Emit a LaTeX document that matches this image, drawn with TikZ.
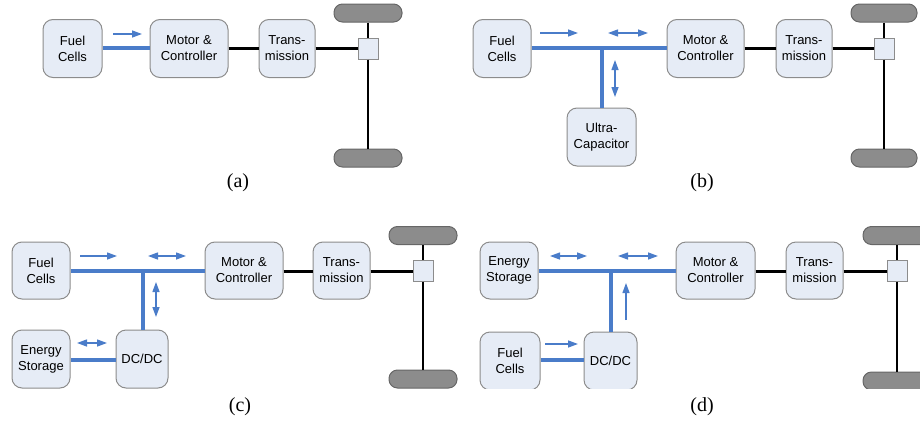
\documentclass[tikz,border=0pt]{standalone}
\usepackage{fontspec}
\setmainfont{Liberation Serif}
\setsansfont{Liberation Sans}
\usetikzlibrary{arrows.meta}
\definecolor{boxfill}{HTML}{E6ECF6}
\definecolor{boxline}{HTML}{8C8C8C}
\definecolor{flow}{HTML}{4A7CC9}
\definecolor{wheelfill}{HTML}{8C8C8C}
\begin{document}
\begin{tikzpicture}[x=1pt,y=-1pt,
 blk/.style={draw=boxline, fill=boxfill, rounded corners=10pt, line width=1pt, align=center, inner sep=0pt, font=\sffamily\fontsize{13}{16}\selectfont, minimum height=58pt},
 hub/.style={draw=boxline, fill=boxfill, line width=1pt, minimum width=20pt, minimum height=21pt, inner sep=0pt},
 wheel/.style={draw=black!60, fill=wheelfill, rounded corners=8.5pt, minimum width=68pt, minimum height=18pt, inner sep=0pt, line width=1pt},
 bus/.style={draw=flow, line width=4pt},
 shaft/.style={draw=black, line width=3pt},
 axle/.style={draw=black, line width=2.5pt},
 flowarr/.style={draw=flow, line width=1.3pt, -{Triangle[length=10pt,width=7pt]}},
 flowdbl/.style={draw=flow, line width=1.3pt, {Triangle[length=10pt,width=7pt]}-{Triangle[length=10pt,width=7pt]}},
 captxt/.style={font=\fontsize{20}{22}\selectfont, inner sep=0pt}]
\useasboundingbox (0,0) rectangle (920,423);

% ---------------- (a) ----------------
\node[blk, minimum width=59pt] (fca) at (72.5,48.5) {Fuel\\Cells};
\node[blk, minimum width=78pt] (mca) at (189,48.5) {Motor \&\\Controller};
\node[blk, minimum width=56pt] (tra) at (287,48.5) {Trans-\\mission};
\node[hub] (sqa) at (368,48.5) {};
\node[wheel] (wta) at (368,13) {};
\node[wheel] (wba) at (368,158) {};
\draw[bus] (fca.east |- 0,48) -- (mca.west |- 0,48);
\draw[shaft] (mca.east |- 0,48) -- (tra.west |- 0,48);
\draw[shaft] (tra.east |- 0,48) -- (sqa.west |- 0,48);
\draw[axle] (wta.south) -- (sqa.north);
\draw[axle] (sqa.south) -- (wba.north);
\coordinate (a1s) at (113,34); \coordinate (a1e) at (142,34);
\draw[flowarr] (a1s) -- (a1e);
\node[captxt] (capa) at (238,183) {(a)};

% ---------------- (b) ----------------
\node[blk, minimum width=58pt] (fcb) at (502,48.5) {Fuel\\Cells};
\node[blk, minimum width=77pt] (mcb) at (705.5,48.5) {Motor \&\\Controller};
\node[blk, minimum width=56pt] (trb) at (804,48.5) {Trans-\\mission};
\node[hub] (sqb) at (884,48.5) {};
\node[wheel, minimum width=66pt] (wtb) at (884,13) {};
\node[wheel, minimum width=66pt] (wbb) at (884,158) {};
\node[blk, minimum width=69pt] (ucb) at (601.5,137) {Ultra-\\Capacitor};
\coordinate (jb) at (602,48);
\draw[bus] (fcb.east |- jb) -- (jb) -- (mcb.west |- jb);
\draw[bus] (jb) -- (jb |- ucb.north);
\draw[shaft] (mcb.east |- 0,48) -- (trb.west |- 0,48);
\draw[shaft] (trb.east |- 0,48) -- (sqb.west |- 0,48);
\draw[axle] (wtb.south) -- (sqb.north);
\draw[axle] (sqb.south) -- (wbb.north);
\coordinate (b1s) at (540,33); \coordinate (b1e) at (578,33);
\coordinate (b2s) at (608,33); \coordinate (b2e) at (648,33);
\coordinate (b3s) at (615,60); \coordinate (b3e) at (615,97);
\draw[flowarr] (b1s) -- (b1e);
\draw[flowdbl] (b2s) -- (b2e);
\draw[flowdbl] (b3s) -- (b3e);
\node[captxt] (capb) at (702,183) {(b)};

% ---------------- (c) ----------------
\node[blk, minimum width=58pt, minimum height=57pt] (fcc) at (41,270.5) {Fuel\\Cells};
\node[blk, minimum width=78pt, minimum height=57pt] (mcc) at (244,270.5) {Motor \&\\Controller};
\node[blk, minimum width=57pt, minimum height=57pt] (trc) at (341.5,270.5) {Trans-\\mission};
\node[hub] (sqc) at (423,270.5) {};
\node[wheel] (wtc) at (423,235.5) {};
\node[wheel] (wbc) at (423,379) {};
\node[blk, minimum width=52pt] (dcc) at (142,359) {DC/DC};
\node[blk, minimum width=58pt] (esc) at (41,359) {Energy\\Storage};
\coordinate (jc) at (143,271);
\draw[bus] (fcc.east |- jc) -- (jc) -- (mcc.west |- jc);
\draw[bus] (jc) -- (jc |- dcc.north);
\draw[bus] (esc.east |- 0,360) -- (dcc.west |- 0,360);
\draw[shaft] (mcc.east |- 0,271) -- (trc.west |- 0,271);
\draw[shaft] (trc.east |- 0,271) -- (sqc.west |- 0,271);
\draw[axle] (wtc.south) -- (sqc.north);
\draw[axle] (sqc.south) -- (wbc.north);
\coordinate (c1s) at (80,256); \coordinate (c1e) at (117,256);
\coordinate (c2s) at (148,256); \coordinate (c2e) at (186,256);
\coordinate (c3s) at (156,282); \coordinate (c3e) at (156,317);
\coordinate (c4s) at (77,343); \coordinate (c4e) at (107,343);
\draw[flowarr] (c1s) -- (c1e);
\draw[flowdbl] (c2s) -- (c2e);
\draw[flowdbl] (c3s) -- (c3e);
\draw[flowdbl] (c4s) -- (c4e);
\node[captxt] (capc) at (240,407) {(c)};

% ---------------- (d) ----------------
\begin{scope}
\clip (440,200) rectangle (920,388.5);
\node[blk, minimum width=58pt, minimum height=57pt] (esd) at (509,270.5) {Energy\\Storage};
\node[blk, minimum width=79pt, minimum height=57pt] (mcd) at (715.5,270.5) {Motor \&\\Controller};
\node[blk, minimum width=57pt, minimum height=57pt] (trd) at (814.5,270.5) {Trans-\\mission};
\node[hub] (sqd) at (897,270.5) {};
\node[wheel] (wtd) at (897,235.5) {};
\node[wheel] (wbd) at (897,381) {};
\node[blk, minimum width=53pt] (dcd) at (610.5,361) {DC/DC};
\node[blk, minimum width=60pt] (fcd) at (510,361) {Fuel\\Cells};
\coordinate (jd) at (611,271);
\draw[bus] (esd.east |- jd) -- (jd) -- (mcd.west |- jd);
\draw[bus] (jd) -- (jd |- dcd.north);
\draw[bus] (fcd.east |- 0,360) -- (dcd.west |- 0,360);
\draw[shaft] (mcd.east |- 0,271) -- (trd.west |- 0,271);
\draw[shaft] (trd.east |- 0,271) -- (sqd.west |- 0,271);
\draw[axle] (wtd.south) -- (sqd.north);
\draw[axle] (sqd.south) -- (wbd.north);
\coordinate (d1s) at (550,256); \coordinate (d1e) at (587,256);
\coordinate (d2s) at (618,256); \coordinate (d2e) at (658,256);
\coordinate (d3s) at (626,320); \coordinate (d3e) at (626,283);
\coordinate (d4s) at (545,344); \coordinate (d4e) at (578,344);
\draw[flowdbl] (d1s) -- (d1e);
\draw[flowdbl] (d2s) -- (d2e);
\draw[flowarr] (d3s) -- (d3e);
\draw[flowarr] (d4s) -- (d4e);
\end{scope}
\node[captxt] (capd) at (702,407) {(d)};
\end{tikzpicture}
\end{document}
